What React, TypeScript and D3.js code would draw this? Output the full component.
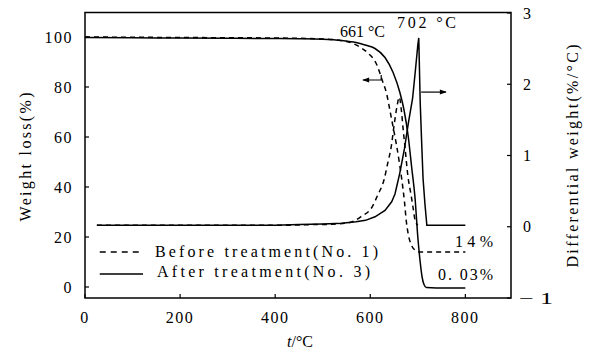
import { useEffect, useRef } from "react";
import * as d3 from "d3";

const tgBeforeT = [0, 100, 200, 300, 400, 500, 550, 578, 595, 614, 625, 635, 641, 648, 655, 661, 667, 672, 676, 680, 686, 694, 705, 760, 800];
const tgBeforeW = [100, 99.9, 99.8, 99.7, 99.6, 99.2, 98.2, 96, 93.6, 88.8, 82.8, 76.8, 71, 64, 57, 50, 42, 34, 26, 21, 17, 14.8, 14, 14, 14];

const tgAfterT = [0, 100, 200, 300, 400, 450, 500, 540, 570, 589, 610, 631, 648, 662, 671, 680, 687, 694, 700, 705, 709, 713, 718, 760, 800];
const tgAfterW = [99.8, 99.7, 99.6, 99.5, 99.4, 99.3, 99.1, 98.6, 97.8, 96.8, 95.4, 91.8, 85.8, 78, 70.8, 60, 48, 36, 20, 10, 4, 1, -0.2, -0.4, -0.4];

const dtgBeforeT = [25, 200, 400, 480, 520, 557, 580, 604, 616, 629, 637, 644, 650, 656, 661, 665, 669, 673, 679, 686, 690, 694, 700];
const dtgBeforeD = [0.02, 0.02, 0.02, 0.03, 0.035, 0.06, 0.14, 0.28, 0.45, 0.66, 0.9, 1.12, 1.42, 1.68, 1.82, 1.66, 1.38, 1.12, 0.72, 0.44, 0.27, 0.1, 0.02];

const dtgAfterT = [25, 100, 200, 300, 400, 450, 500, 540, 570, 590, 610, 631, 645, 652, 662, 672, 680, 689, 695, 700, 702, 705, 708, 711, 715, 719, 760, 800];
const dtgAfterD = [0.02, 0.02, 0.02, 0.02, 0.02, 0.03, 0.04, 0.05, 0.07, 0.09, 0.14, 0.23, 0.35, 0.46, 0.75, 1.1, 1.45, 1.8, 2.2, 2.55, 2.65, 1.75, 1.2, 0.68, 0.32, 0.02, 0.02, 0.02];

const xTicks = [0, 200, 400, 600, 800];
const leftTicks = [0, 20, 40, 60, 80, 100];
const rightTicks = [-1, 0, 1, 2, 3];

const legendLabels = ["Before treatment(No. 1)", "After treatment(No. 3)"];
const peakLabels = ["661 °C", "702 °C"];
const residueLabels = ["14%", "0. 03%"];

const FONT = "Liberation Serif, DejaVu Serif, Times New Roman, serif";

export default function App() {
  const svgRef = useRef<SVGSVGElement>(null);

  useEffect(() => {
    if (!svgRef.current) return;
    const svg = d3.select(svgRef.current);
    svg.selectAll("*").remove();

    // ── Scales ─────────────────────────────────────────────────────────────
    const x = d3.scaleLinear().domain([0, 896]).range([85, 511]);
    const yL = d3.scaleLinear().domain([-4.4, 109.8]).range([298, 12.5]);
    const yR = d3.scaleLinear().domain([-1, 3]).range([298, 13]);

    const pts = (t: number[], v: number[]) => t.map((ti, i) => [ti, v[i]] as [number, number]);

    const lineL = d3.line<[number, number]>().x((d) => x(d[0])).y((d) => yL(d[1])).curve(d3.curveMonotoneX);
    const lineR = d3.line<[number, number]>().x((d) => x(d[0])).y((d) => yR(d[1])).curve(d3.curveMonotoneX);
    const lineRSharp = d3.line<[number, number]>().x((d) => x(d[0])).y((d) => yR(d[1]));

    // ── Frame ──────────────────────────────────────────────────────────────
    svg.append("rect")
      .attr("x", 85).attr("y", 12.5)
      .attr("width", 426).attr("height", 285.5)
      .attr("fill", "none").attr("stroke", "#000").attr("stroke-width", 1.5);

    // ── Ticks (inward) + labels ────────────────────────────────────────────
    const tickLen = 4;
    xTicks.forEach((t) => {
      svg.append("line")
        .attr("x1", x(t)).attr("x2", x(t))
        .attr("y1", 298).attr("y2", 298 - tickLen)
        .attr("stroke", "#000").attr("stroke-width", 1.2);
      svg.append("text")
        .attr("x", x(t)).attr("y", 323)
        .attr("text-anchor", "middle")
        .attr("font-size", 16).attr("font-family", FONT)
        .attr("letter-spacing", 1.5)
        .text(String(t));
    });
    leftTicks.forEach((v) => {
      svg.append("line")
        .attr("x1", 85).attr("x2", 85 + tickLen)
        .attr("y1", yL(v)).attr("y2", yL(v))
        .attr("stroke", "#000").attr("stroke-width", 1.2);
      svg.append("text")
        .attr("x", 73).attr("y", yL(v) + 5.5)
        .attr("text-anchor", "end")
        .attr("font-size", 16).attr("font-family", FONT)
        .attr("letter-spacing", 1.5)
        .text(String(v));
    });
    rightTicks.forEach((v) => {
      svg.append("line")
        .attr("x1", 511).attr("x2", 511 - tickLen)
        .attr("y1", yR(v)).attr("y2", yR(v))
        .attr("stroke", "#000").attr("stroke-width", 1.2);
      const txt = svg.append("text")
        .attr("x", v < 0 ? 519 : 523).attr("y", yR(v) + 5.5)
        .attr("font-size", 16).attr("font-family", FONT)
        .text(v < 0 ? "\u2212 1" : String(v));
      if (v < 0) txt.attr("textLength", 34).attr("lengthAdjust", "spacingAndGlyphs");
    });

    // ── Axis titles ────────────────────────────────────────────────────────
    svg.append("text")
      .attr("transform", "translate(31,157) rotate(-90)")
      .attr("text-anchor", "middle")
      .attr("font-size", 16).attr("font-family", FONT)
      .attr("textLength", 129).attr("lengthAdjust", "spacing")
      .text("Weight loss(%)");
    svg.append("text")
      .attr("transform", "translate(578,156) rotate(-90)")
      .attr("text-anchor", "middle")
      .attr("font-size", 16).attr("font-family", FONT)
      .attr("textLength", 223).attr("lengthAdjust", "spacing")
      .text("Differential weight(%/°C)");
    const xt = svg.append("text")
      .attr("x", 300).attr("y", 347)
      .attr("text-anchor", "middle")
      .attr("font-size", 16).attr("font-family", FONT);
    xt.append("tspan").attr("font-style", "italic").text("t");
    xt.append("tspan").text("/°C");

    // ── Curves ─────────────────────────────────────────────────────────────
    const stroke = (sel: d3.Selection<SVGPathElement, unknown, null, undefined>, dashed: boolean) => {
      sel.attr("fill", "none").attr("stroke", "#000").attr("stroke-width", 1.5);
      if (dashed) sel.attr("stroke-dasharray", "5 4");
    };
    stroke(svg.append("path").attr("d", lineL(pts(tgBeforeT, tgBeforeW))), true);
    stroke(svg.append("path").attr("d", lineR(pts(dtgBeforeT, dtgBeforeD))), true);
    stroke(svg.append("path").attr("d", lineL(pts(tgAfterT, tgAfterW))), false);
    stroke(svg.append("path").attr("d", lineRSharp(pts(dtgAfterT, dtgAfterD))), false);

    // ── Arrows pointing to each axis ───────────────────────────────────────
    const ay = yL(82.8);
    const ax0 = x(585), ax1 = x(623);
    svg.append("path")
      .attr("d", `M${ax1},${ay - 5}L${ax1},${ay}L${ax0},${ay}`)
      .attr("fill", "none").attr("stroke", "#000").attr("stroke-width", 1.2);
    svg.append("path")
      .attr("d", `M${ax0 - 1},${ay}L${ax0 + 6},${ay - 2.5}L${ax0 + 6},${ay + 2.5}Z`)
      .attr("fill", "#000");
    const by = yR(1.89);
    const bx0 = x(707), bx1 = x(759);
    svg.append("line")
      .attr("x1", bx0).attr("x2", bx1).attr("y1", by).attr("y2", by)
      .attr("stroke", "#000").attr("stroke-width", 1.2);
    svg.append("path")
      .attr("d", `M${bx1 + 1},${by}L${bx1 - 6},${by - 2.5}L${bx1 - 6},${by + 2.5}Z`)
      .attr("fill", "#000");

    // ── Annotations ────────────────────────────────────────────────────────
    const label = (tx: number, ty: number, s: string, len: number) =>
      svg.append("text")
        .attr("x", tx).attr("y", ty)
        .attr("font-size", 16).attr("font-family", FONT)
        .attr("textLength", len).attr("lengthAdjust", "spacing")
        .text(s);
    label(340, 37, peakLabels[0], 45);
    label(397, 28, peakLabels[1], 59);
    label(455, 247, residueLabels[0], 38);
    label(438, 280, residueLabels[1], 55);

    // ── Legend ─────────────────────────────────────────────────────────────
    svg.append("line")
      .attr("x1", x(31)).attr("x2", x(122)).attr("y1", 252).attr("y2", 252)
      .attr("stroke", "#000").attr("stroke-width", 1.3).attr("stroke-dasharray", "6 5");
    svg.append("line")
      .attr("x1", x(31)).attr("x2", x(122)).attr("y1", 274).attr("y2", 274)
      .attr("stroke", "#000").attr("stroke-width", 1.3);
    label(155, 257, legendLabels[0], 223);
    label(157, 277, legendLabels[1], 213);
  }, []);

  return (
    <svg
      ref={svgRef}
      width={589}
      height={353}
      viewBox="0 0 589 353"
      style={{ position: "absolute", left: 0, top: 0, background: "#fff" }}
    />
  );
}
